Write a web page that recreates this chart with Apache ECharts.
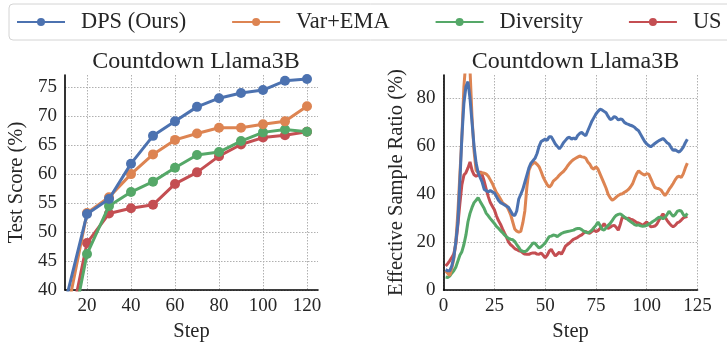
<!DOCTYPE html>
<html>
<head>
<meta charset="utf-8">
<script src="https://cdn.jsdelivr.net/npm/echarts@6/dist/echarts.min.js"></script>
<style>
html,body{margin:0;padding:0;background:#fff;}
#chart{width:727px;height:347px;}
</style>
</head>
<body>
<div id="chart"></div>
<script>
// ---- Data ----
const seriesNames = ['DPS (Ours)', 'Var+EMA', 'Diversity', 'US'];
const colors = ['#4C72B0', '#DD8452', '#55A868', '#C44E52'];

// Left: Test Score (%)
const scoreSteps = [10, 20, 30, 40, 50, 60, 70, 80, 90, 100, 110, 120];
const scoreDPS = [37.7, 53.1, 55.7, 61.8, 66.6, 69.1, 71.6, 73.1, 74.0, 74.5, 76.1, 76.4];
const scoreVarEMA = [34.3, 53.3, 56.0, 60.0, 63.4, 65.9, 67.0, 68.0, 68.0, 68.6, 69.1, 71.7];
const scoreDiversity = [27.0, 46.2, 54.5, 56.9, 58.7, 61.1, 63.3, 63.8, 65.7, 67.2, 67.7, 67.3];
const scoreUS = [29.7, 48.1, 53.2, 54.1, 54.7, 58.3, 60.3, 63.1, 65.1, 66.3, 66.7, 67.3];
const scoreXTicks = [20, 40, 60, 80, 100, 120];
const scoreYTicks = [40, 45, 50, 55, 60, 65, 70, 75];

// Right: Effective Sample Ratio (%), steps 1..120
const esrSteps = Array.from({length: 120}, (_, i) => i + 1);
const esrDPS = [
  8.5, 8, 8, 10, 13.5, 20, 28, 45, 64, 78,
  85, 87, 80, 70, 60, 53, 49, 47, 45, 42,
  41.5, 41, 41.5, 41, 40.5, 39, 37.5, 36.5, 36, 35.5,
  35, 34.5, 33, 31.5, 31, 33, 38, 40, 42, 45,
  48, 51, 53, 54, 55, 57, 60, 62, 62.5, 63,
  62.5, 64, 64, 62.5, 61, 60, 59, 60, 61.5, 62.5,
  63.5, 63.8, 63, 63.5, 63, 64.5, 65.4, 65.8, 65, 64.4,
  66.5, 68.5, 70.5, 72, 73.5, 74.6, 75.5, 75.2, 74.6, 74,
  72.5, 71.2, 71.5, 72.5, 72, 71, 71.4, 71.2, 70, 69.5,
  69.2, 68.8, 68.5, 68, 67.1, 66.5, 65, 63.5, 62, 61,
  60.3, 59.8, 60.5, 61.2, 61.8, 62.4, 62.8, 63.3, 62.5, 61.5,
  61, 59.5, 58.3, 58.6, 58, 57.6, 58.5, 59.7, 61.5, 63
];
const esrVarEMA = [
  8, 7, 6, 9, 13, 20, 32, 48, 64, 85,
  96, 97, 92, 72, 58, 50, 49, 48.8, 49, 48.8,
  48.4, 47.5, 46, 44.5, 42.5, 40.7, 39.5, 38, 36.5, 35.8,
  35.2, 33.5, 31.5, 28.5, 25.5, 24.6, 24.2, 24.5, 28, 33,
  43, 50, 52, 52.9, 53.3, 52.5, 51.5, 49.5, 47.2, 45.5,
  44, 43, 43.8, 45.5, 46.2, 47, 48, 48.8, 49.5, 50.5,
  51.8, 52.9, 53.8, 54.5, 55, 55.5, 56, 55.6, 55.5, 55,
  53.5, 52.5, 51, 50.5, 51.5, 50.5, 48.5, 46.5, 44.5, 42.5,
  40, 38.5, 37.5, 38, 38.8, 39.5, 40, 40.2, 40.8, 41.3,
  42, 43, 44.3, 46.5, 48.5, 49.8, 49, 48.4, 48, 48.6,
  48.4, 46.5, 44.5, 42.8, 42.5, 42.3, 41.8, 40.5, 39.5, 40.5,
  42, 43.2, 44.5, 46, 47.2, 47.5, 47, 48.5, 51, 53
];
const esrDiversity = [
  5.4, 5.2, 5.8, 7, 8, 9.5, 12, 14.5, 16, 19,
  23, 28.5, 32, 34.5, 36.5, 37.5, 38.6, 37, 35.5, 34,
  32, 31, 29.8, 28.8, 27.8, 26.6, 25.8, 24.8, 24, 23,
  22.2, 21.5, 21.2, 21, 20.3, 19, 17.8, 16.5, 16.2, 16,
  16.5, 17.5, 18.5, 19.6, 19.5, 18.5, 17.6, 18, 18.8, 19.6,
  21, 22.3, 22.5, 23, 22.8, 22.3, 23, 23.6, 24, 24.2,
  24.4, 24.6, 24.8, 25, 25.5, 25.7, 25.7, 25.2, 24.6, 24.2,
  23.8, 24.3, 25, 26, 27, 28.4, 27, 25.3, 25, 26,
  27, 27.8, 29, 30.3, 31.2, 31.6, 31.8, 31.2, 30.5, 30,
  29.2, 28.6, 28, 27.3, 27, 27.2, 26.8, 26.6, 26.7, 27,
  27.5, 28, 28.6, 29.1, 29.8, 30.4, 30.2, 29.8, 30.4, 31.5,
  32.9, 31.8, 30.8, 31.5, 32.8, 33.2, 33, 31.5, 30.8, 32
];
const esrUS = [
  10, 11, 12.2, 13.5, 15, 19, 27, 36, 44, 48,
  49, 51, 53.5, 50, 48.1, 47.5, 48, 49.5, 48, 45.4,
  42, 39, 36.5, 35, 33.5, 31, 29, 27.5, 25.5, 23.7,
  22, 20, 18.9, 18.2, 17.3, 16.9, 16.4, 16.2, 15.5, 15,
  14.9, 14.9, 15.3, 15.5, 15.5, 15, 14.9, 15.5, 14.5, 13.5,
  14.5, 16.2, 17, 15.5, 14.2, 15, 15.8, 14.9, 16.5, 18.3,
  19, 19.6, 20.5, 21.2, 21.6, 22, 22.6, 23, 23.8, 24.4,
  24, 23.7, 24.5, 25, 24.4, 24.8, 25.7, 26.5, 27.7, 26.5,
  25.7, 26.2, 26.8, 27, 26.2, 25, 27.5, 30.5, 30.2, 29.8,
  30, 29.6, 29.4, 28.8, 28.2, 28, 27.5, 27, 27.7, 28.4,
  27.5, 26.4, 26.5, 26.7, 27.5, 29.1, 30.5, 31.8, 30.5, 29.1,
  28, 27, 26.4, 27, 28, 28.4, 29.2, 30.1, 30.5, 30.8
];
const esrXTicks = [0, 25, 50, 75, 100, 125];
const esrYTicks = [0, 20, 40, 60, 80];

// ---- Chart ----
const FONT = 'Liberation Serif';
const TXT = '#262626';
const zip = (xs, ys) => xs.map((x, i) => [x, ys[i]]);
const scoreData = [scoreDPS, scoreVarEMA, scoreDiversity, scoreUS];
const esrData = [esrDPS, esrVarEMA, esrDiversity, esrUS];

const gridLine = {show: true, lineStyle: {color: '#b0b0b0', type: [1.5, 1.5], width: 1}};
const axisLineStyle = {show: true, lineStyle: {color: '#000', width: 1.6}};

function xAxisDef(gridIndex, min, max, ticks) {
  return {
    type: 'value', gridIndex, min, max,
    name: 'Step', nameLocation: 'middle', nameGap: 31,
    nameTextStyle: {fontFamily: FONT, fontSize: 20.5, color: TXT},
    axisLine: axisLineStyle,
    axisTick: {show: false, customValues: ticks},
    axisLabel: {customValues: ticks, fontFamily: FONT, fontSize: 19, color: TXT, margin: 7},
    splitLine: gridLine
  };
}
function yAxisDef(gridIndex, min, max, ticks, name, gap) {
  return {
    type: 'value', gridIndex, min, max,
    name, nameLocation: 'middle', nameGap: gap,
    nameTextStyle: {fontFamily: FONT, fontSize: 20.5, color: TXT},
    axisLine: axisLineStyle,
    axisTick: {show: false, customValues: ticks},
    axisLabel: {customValues: ticks, fontFamily: FONT, fontSize: 19, color: TXT, margin: 8},
    splitLine: gridLine
  };
}

const series = [];
seriesNames.forEach((n, i) => {
  series.push({
    name: n, type: 'line', xAxisIndex: 0, yAxisIndex: 0,
    data: zip(scoreSteps, scoreData[i]),
    symbol: 'circle', symbolSize: 10, showSymbol: true,
    lineStyle: {width: 3, color: colors[i]},
    itemStyle: {color: colors[i]},
    clip: true, animation: false, z: 2 + (3 - i)
  });
});
seriesNames.forEach((n, i) => {
  series.push({
    name: n, type: 'line', xAxisIndex: 1, yAxisIndex: 1,
    data: zip(esrSteps, esrData[i]),
    symbol: 'none', showSymbol: false,
    lineStyle: {width: 3, color: colors[i]},
    itemStyle: {color: colors[i]},
    clip: true, animation: false, z: 2 + (3 - i)
  });
});

const option = {
  animation: false,
  backgroundColor: '#fff',
  textStyle: {fontFamily: FONT},
  title: [
    {text: 'Countdown Llama3B', left: 191, top: 45, textAlign: 'center',
     textStyle: {fontFamily: FONT, fontSize: 24, fontWeight: 'normal', color: TXT}},
    {text: 'Countdown Llama3B', left: 570.5, top: 45, textAlign: 'center',
     textStyle: {fontFamily: FONT, fontSize: 24, fontWeight: 'normal', color: TXT}}
  ],
  legend: {
    data: seriesNames,
    orient: 'horizontal',
    left: 9, top: 4, width: 1000,
    padding: [7, 40, 7, 7],
    itemWidth: 48, itemHeight: 10, itemGap: 45,
    borderColor: '#d4d4d4', borderWidth: 1, borderRadius: 4,
    backgroundColor: '#fff',
    textStyle: {fontFamily: FONT, fontSize: 22.4, color: TXT, padding: [0, 0, 0, 11]}
  },
  grid: [
    {left: 65, top: 75, width: 253, height: 220, containLabel: false},
    {left: 443.6, top: 75, width: 253.9, height: 220, containLabel: false}
  ],
  xAxis: [
    xAxisDef(0, 10, 125, scoreXTicks),
    xAxisDef(1, 0, 125, esrXTicks)
  ],
  yAxis: [
    yAxisDef(0, 40, 77.1, scoreYTicks, 'Test Score (%)', 38),
    yAxisDef(1, 0, 89.8, esrYTicks, 'Effective Sample Ratio (%)', 36)
  ],
  series
};

const chart = echarts.init(document.getElementById('chart'), null, {renderer: 'canvas'});
chart.setOption(option);
</script>
</body>
</html>
